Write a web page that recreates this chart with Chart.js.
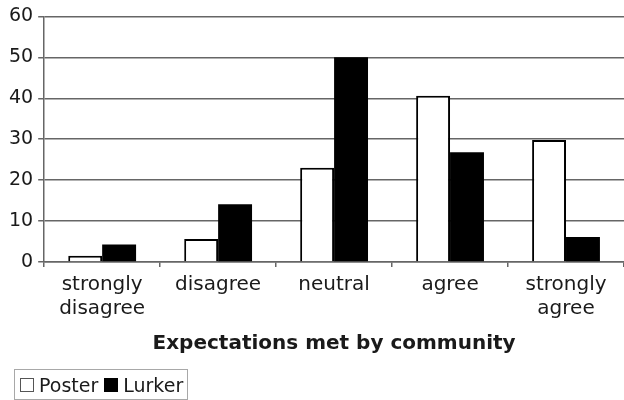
<!DOCTYPE html>
<html>
<head>
<meta charset="utf-8">
<title>Expectations met by community</title>
<script src="https://cdn.jsdelivr.net/npm/chart.js@4.4.1/dist/chart.umd.min.js"></script>
<style>
  html, body { margin: 0; padding: 0; background: #fff; }
  #wrap { position: relative; width: 624px; height: 400px; }
  #legend {
    position: absolute; left: 14px; top: 369px;
    height: 29px; padding: 0 4px 0 5px;
    border: 1px solid #a8a8a8;
    display: flex; align-items: center;
    font: 19px "DejaVu Sans", Verdana, sans-serif; color: #1a1a1a;
    white-space: nowrap;
  }
  #legend .item { display: flex; align-items: center; margin-right: 6px; }
  #legend .item:last-child { margin-right: 0; }
  #legend .swatch { width: 12px; height: 12px; margin-right: 5px; border: 1px solid #555; }
</style>
</head>
<body>
<div id="wrap">
  <canvas id="bar-chart"></canvas>
  <div id="legend"></div>
</div>
<script>
// Survey answers
var categories = [["strongly", "disagree"], "disagree", "neutral", "agree", ["strongly", "agree"]];
var seriesNames = ["Poster", "Lurker"];
var posterValues = [1.5, 5.6, 23, 40.6, 29.8];
var lurkerValues = [4.3, 14.1, 50, 26.8, 6.1];
var yTicks = [0, 10, 20, 30, 40, 50, 60];

var fontFamily = '"DejaVu Sans", Verdana, sans-serif';
var textColor = '#1a1a1a';
var gridColor = '#666666';

var ctx = document.getElementById("bar-chart");

var chartData = {
    labels: categories,
    datasets: [{
        label: seriesNames[0],
        data: posterValues,
        backgroundColor: '#ffffff',
        borderColor: '#000000',
        borderWidth: 2
    }, {
        label: seriesNames[1],
        data: lurkerValues,
        backgroundColor: '#000000',
        borderWidth: 0
    }]
};

var chartOptions = {
    responsive: true,
    maintainAspectRatio: false,
    animation: false,
    layout: {
        padding: { top: 4, right: 0, bottom: 40, left: 4 }
    },
    datasets: {
        bar: { categoryPercentage: 0.585, barPercentage: 1.0 }
    },
    plugins: {
        legend: { display: false },
        tooltip: { enabled: false }
    },
    scales: {
        x: {
            grid: {
                offset: true,
                drawOnChartArea: false,
                drawTicks: true,
                tickLength: 5,
                color: gridColor,
                lineWidth: 1.5
            },
            border: { color: gridColor, width: 1.5 },
            ticks: {
                color: textColor,
                padding: 6,
                maxRotation: 0,
                autoSkip: false,
                font: { family: fontFamily, size: 20, lineHeight: 1.2 }
            },
            title: {
                display: true,
                text: 'Expectations met by community',
                color: textColor,
                padding: { top: 5, bottom: 4 },
                font: { family: fontFamily, size: 20, weight: 'bold' }
            }
        },
        y: {
            min: yTicks[0],
            max: yTicks[yTicks.length - 1],
            afterBuildTicks: function(scale) {
                scale.ticks = yTicks.map(function(v) { return { value: v }; });
            },
            grid: {
                color: gridColor,
                lineWidth: 1.5,
                drawTicks: true,
                tickLength: 6
            },
            border: { color: gridColor, width: 1.5 },
            ticks: {
                color: textColor,
                padding: 5,
                font: { family: fontFamily, size: 19 }
            }
        }
    }
};

var barChart = new Chart(ctx, {
    type: 'bar',
    data: chartData,
    options: chartOptions
});

// legend in a bordered box under the chart
var legendEl = document.getElementById("legend");
barChart.data.datasets.forEach(function(ds) {
    var item = document.createElement("span");
    item.className = "item";
    var swatch = document.createElement("span");
    swatch.className = "swatch";
    swatch.style.background = ds.backgroundColor;
    if (ds.backgroundColor === '#000000') swatch.style.borderColor = '#000';
    item.appendChild(swatch);
    item.appendChild(document.createTextNode(ds.label));
    legendEl.appendChild(item);
});
</script>
</body>
</html>
